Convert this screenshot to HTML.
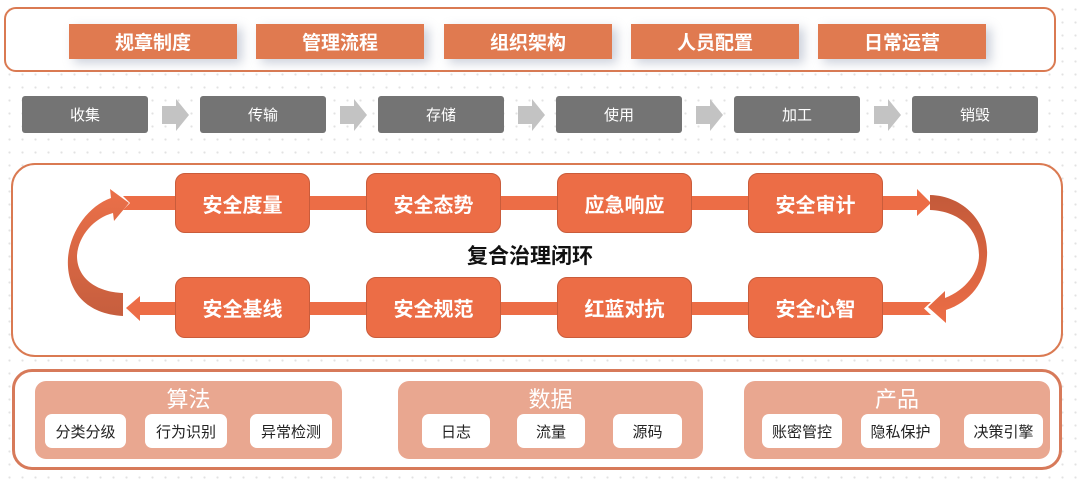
<!DOCTYPE html>
<html><head><meta charset="utf-8">
<style>
*{margin:0;padding:0;box-sizing:border-box}
html,body{width:1080px;height:480px;overflow:hidden;background:#fff}
body{position:relative;font-family:"Liberation Sans","Noto Sans CJK SC",sans-serif;
background-image:radial-gradient(circle,#e2e2e2 0.9px,transparent 1.3px);background-size:13px 13px;background-position:3px 3px}
.abs{position:absolute}
.c{display:flex;align-items:center;justify-content:center}
.frame{position:absolute;border:2.5px solid #DA7A52;background:#fff}
.ob{position:absolute;top:24px;width:168px;height:35px;background:#E07A50;color:#fff;font-weight:bold;font-size:19px;box-shadow:5px 4px 10px rgba(140,150,175,0.45)}
.gb{position:absolute;top:96px;width:126px;height:37px;background:#747474;color:#fff;font-size:15px;border-radius:3px}
.node{position:absolute;width:135px;background:#EC6D46;border:1px solid #C95C3B;border-radius:10px;color:#fff;font-weight:bold;font-size:20px}
.grp{position:absolute;top:381px;height:78px;background:#E9A790;border-radius:11px}
.gt{position:absolute;top:6px;left:0;right:0;text-align:center;color:#fff;font-size:22px;line-height:26px}
.pill{position:absolute;top:33px;height:34px;background:#fff;border-radius:7px;color:#222;font-size:15px}
</style></head><body>

<!-- top frame -->
<div class="frame" style="left:4px;top:7px;width:1052px;height:65px;border-radius:12px"></div>
<div class="ob c" style="left:69px">规章制度</div>
<div class="ob c" style="left:256px">管理流程</div>
<div class="ob c" style="left:444px">组织架构</div>
<div class="ob c" style="left:631px">人员配置</div>
<div class="ob c" style="left:818px">日常运营</div>

<!-- gray row -->
<div class="gb c" style="left:22px">收集</div>
<div class="gb c" style="left:200px">传输</div>
<div class="gb c" style="left:378px">存储</div>
<div class="gb c" style="left:556px">使用</div>
<div class="gb c" style="left:734px">加工</div>
<div class="gb c" style="left:912px">销毁</div>
<svg class="abs" style="left:0;top:0" width="1080" height="480">
 <g fill="#C3C3C3">
  <polygon points="162,106 176,106 176,99 189,115 176,131 176,124 162,124"/>
  <polygon points="340,106 354,106 354,99 367,115 354,131 354,124 340,124"/>
  <polygon points="518,106 532,106 532,99 545,115 532,131 532,124 518,124"/>
  <polygon points="696,106 710,106 710,99 723,115 710,131 710,124 696,124"/>
  <polygon points="874,106 888,106 888,99 901,115 888,131 888,124 874,124"/>
 </g>
</svg>

<!-- middle frame -->
<div class="frame" style="left:11px;top:163px;width:1052px;height:194px;border-radius:24px"></div>

<svg class="abs" style="left:0;top:0" width="1080" height="480">
 <defs>
  <linearGradient id="lg" x1="0" y1="0" x2="0" y2="1">
   <stop offset="0" stop-color="#EB7049"/><stop offset="1" stop-color="#C65E3E"/>
  </linearGradient>
  <linearGradient id="rg" x1="0" y1="0" x2="0" y2="1">
   <stop offset="0" stop-color="#C35A3A"/><stop offset="1" stop-color="#EC6D46"/>
  </linearGradient>
 </defs>
 <!-- top bar with notch tail and arrowhead -->
 <polygon fill="#EC6D46" points="123,196 917,196 917,189 931,203 917,216 917,210 123,210 130,203"/>
 <!-- bottom bar with arrowhead left and notch right -->
 <polygon fill="#EC6D46" points="126,308 140,296 140,302 931,302 924,308.5 931,315 140,315 140,321"/>
 <!-- left curved arrow -->
 <path fill="url(#lg)" d="M123 316 C85 314 66 290 68 258 C70 232 88 206 111 198 L110 189 L129 203 L114 221 L113 213 C94 218 78 236 77 256 C77 278 96 292 123 293 Z"/>
 <!-- right curved arrow -->
 <path fill="url(#rg)" d="M930 195 C966 196 989 225 987 256 C986 282 970 302 946 310 L946 323 L928 307 L945 291 L945 298 C966 290 979 272 979 255 C979 230 960 211 930 210 Z"/>
</svg>

<div class="node c" style="left:175px;top:173px;height:60px">安全度量</div>
<div class="node c" style="left:366px;top:173px;height:60px">安全态势</div>
<div class="node c" style="left:557px;top:173px;height:60px">应急响应</div>
<div class="node c" style="left:748px;top:173px;height:60px">安全审计</div>
<div class="node c" style="left:175px;top:277px;height:61px">安全基线</div>
<div class="node c" style="left:366px;top:277px;height:61px">安全规范</div>
<div class="node c" style="left:557px;top:277px;height:61px">红蓝对抗</div>
<div class="node c" style="left:748px;top:277px;height:61px">安全心智</div>

<div class="abs c" style="left:430px;top:241px;width:200px;height:28px;font-size:21px;font-weight:bold;color:#111">复合治理闭环</div>

<!-- bottom frame -->
<div class="frame" style="left:12px;top:369px;width:1050px;height:101px;border-radius:20px;border-width:3px;border-color:#D77A5A"></div>

<div class="grp" style="left:35px;width:307px">
 <div class="gt">算法</div>
 <div class="pill c" style="left:10px;width:81px">分类分级</div>
 <div class="pill c" style="left:110px;width:82px">行为识别</div>
 <div class="pill c" style="left:215px;width:82px">异常检测</div>
</div>
<div class="grp" style="left:398px;width:305px">
 <div class="gt">数据</div>
 <div class="pill c" style="left:24px;width:68px">日志</div>
 <div class="pill c" style="left:119px;width:68px">流量</div>
 <div class="pill c" style="left:215px;width:69px">源码</div>
</div>
<div class="grp" style="left:744px;width:306px">
 <div class="gt">产品</div>
 <div class="pill c" style="left:18px;width:80px">账密管控</div>
 <div class="pill c" style="left:117px;width:79px">隐私保护</div>
 <div class="pill c" style="left:220px;width:79px">决策引擎</div>
</div>

</body></html>
